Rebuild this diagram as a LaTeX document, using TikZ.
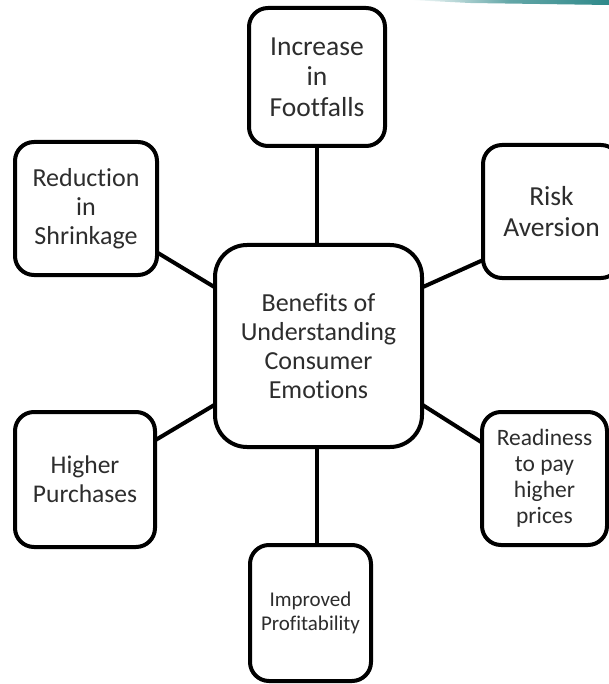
\documentclass[tikz,border=0pt]{standalone}
\usepackage{fontspec}
\setmainfont{Carlito}[Ligatures=NoCommon]
\usetikzlibrary{calc}
\definecolor{edgeteal}{RGB}{47,137,138}
\definecolor{inkgray}{RGB}{45,45,45}
\newcommand{\txtsize}[2]{\fontsize{#1}{#2}\selectfont}
\tikzset{
  benefit/.style={draw=black, line width=4pt, fill=white, rounded corners=19pt,
    align=center, inner sep=0pt, outer sep=0pt, text=inkgray},
  hub/.style={benefit, rounded corners=32pt},
  spoke/.style={draw=black, line width=4pt},
}
\begin{document}
\begin{tikzpicture}[x=1pt, y=-1pt]
  \useasboundingbox (0,0) rectangle (609,684);
  \clip (0,0) rectangle (609,684);

  % central hub
  \node[hub, minimum width=207pt, minimum height=202pt, font=\txtsize{26}{28.8}]
    (hub) at (318.5,346) {Benefits of\\Understanding\\Consumer\\Emotions};

  % surrounding benefits
  \node[benefit, minimum width=136pt, minimum height=138pt, font=\txtsize{27.5}{30.5}]
    (foot) at (317,77) {Increase\\in\\Footfalls};
  \node[benefit, minimum width=142pt, minimum height=133pt, font=\txtsize{26}{29}]
    (shrink) at (86,208.5) {Reduction\\in\\Shrinkage};
  \node[benefit, minimum width=137pt, minimum height=133pt, font=\txtsize{27.5}{31}]
    (risk) at (551.5,211.5) {Risk\\Aversion};
  \node[benefit, minimum width=140pt, minimum height=135pt, font=\txtsize{25.5}{29}]
    (purch) at (85,479.5) {Higher\\Purchases};
  \node[benefit, minimum width=125pt, minimum height=133pt, font=\txtsize{23.5}{26}]
    (ready) at (544.5,478.5) {Readiness\\to pay\\higher\\prices};
  \node[benefit, minimum width=121pt, minimum height=136pt, font=\txtsize{21}{24}]
    (profit) at (310.5,613) {Improved\\Profitability};

  % spokes
  \draw[spoke] (foot.south) -- (foot.south |- hub.north);
  \draw[spoke] (hub.south -| foot.south) -- (profit.north -| foot.south);
  \draw[spoke] ($(shrink.north east)!0.83!(shrink.south east)$)
            -- ($(hub.north west)!0.21!(hub.south west)$);
  \draw[spoke] ($(hub.north east)!0.21!(hub.south east)$)
            -- ($(risk.north west)!0.865!(risk.south west)$);
  \draw[spoke] ($(purch.north east)!0.21!(purch.south east)$)
            -- ($(hub.north west)!0.79!(hub.south west)$);
  \draw[spoke] ($(hub.north east)!0.79!(hub.south east)$)
            -- ($(ready.north west)!0.23!(ready.south west)$);

  % accent strip along the top edge
  \shade[left color=white, right color=edgeteal, middle color=edgeteal!75]
    (410,0) -- (609,0) -- (609,5) -- (470,3) -- cycle;
\end{tikzpicture}
\end{document}
